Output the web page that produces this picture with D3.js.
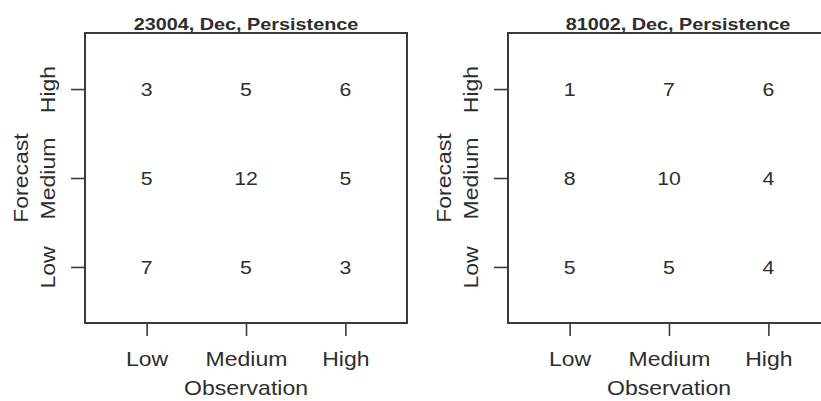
<!DOCTYPE html>
<html>
<head>
<meta charset="utf-8">
<script src="https://cdn.jsdelivr.net/npm/d3@7"></script>
<style>
  html, body { margin: 0; padding: 0; background: #fff; }
  svg { display: block; font-family: "Liberation Sans", Arial, Helvetica, sans-serif; }
</style>
</head>
<body>
<svg id="chart" width="821" height="401"></svg>
<script>
// Contingency tables: rows = forecast level (Low, Medium, High), columns = observed level (Low, Medium, High)
const levels = ["Low", "Medium", "High"];
const stations = ["23004", "81002"];
const month = "Dec";
const method = "Persistence";
const counts23004 = [
  [7, 5, 3],   // forecast Low
  [5, 12, 5],  // forecast Medium
  [3, 5, 6]    // forecast High
];
const counts81002 = [
  [5, 5, 4],
  [8, 10, 4],
  [1, 7, 6]
];
const tables = [counts23004, counts81002];

// Panel geometry
const panels = [
  { left: 85, titleShift: 0 },
  { left: 508, titleShift: 9 }
];
const boxW = 322, boxTop = 33, boxBottom = 323;
const ink = "#2e2e2e";
const frame = "#3a3a3a";

const svg = d3.select("#chart");

panels.forEach((p, i) => {
  const x = d3.scalePoint().domain(levels).range([p.left, p.left + boxW]).padding(0.62);
  const y = d3.scalePoint().domain(levels).range([boxBottom, boxTop]).padding(0.63);
  const g = svg.append("g");

  // Plot frame
  g.append("rect")
    .attr("x", p.left).attr("y", boxTop)
    .attr("width", boxW).attr("height", boxBottom - boxTop)
    .attr("fill", "none").attr("stroke", frame).attr("stroke-width", 2);

  // Bottom axis: Observation
  const xa = g.append("g")
    .attr("transform", `translate(0,${boxBottom})`)
    .call(d3.axisBottom(x).tickSize(13).tickSizeOuter(0));
  xa.select(".domain").remove();
  xa.selectAll(".tick line").attr("stroke", frame).attr("stroke-width", 1.6);
  xa.selectAll(".tick text")
    .attr("y", 43.5).attr("dy", 0)
    .attr("fill", ink).attr("font-size", 20)
    .attr("transform", "scale(1.15,1)");

  // Left axis: Forecast
  const ya = g.append("g")
    .attr("transform", `translate(${p.left},0)`)
    .call(d3.axisLeft(y).tickSize(14).tickSizeOuter(0));
  ya.select(".domain").remove();
  ya.selectAll(".tick line").attr("stroke", frame).attr("stroke-width", 1.6);
  ya.selectAll(".tick text")
    .attr("x", 0).attr("y", 0).attr("dy", 0)
    .attr("text-anchor", "middle")
    .attr("fill", ink).attr("font-size", 20)
    .attr("transform", "translate(-30,0) rotate(-90) scale(1.15,1)");

  // Cell counts
  const cells = [];
  tables[i].forEach((row, fi) => row.forEach((v, oi) => cells.push({ f: levels[fi], o: levels[oi], v })));
  g.selectAll("text.count").data(cells).join("text")
    .attr("class", "count")
    .attr("text-anchor", "middle")
    .attr("fill", ink).attr("font-size", 19)
    .attr("transform", d => `translate(${x(d.o)},${y(d.f) + 6.8}) scale(1.12,1)`)
    .text(d => d.v);

  const cx = p.left + boxW / 2;
  // Title
  g.append("text")
    .attr("text-anchor", "middle")
    .attr("font-weight", "bold").attr("font-size", 16.5).attr("fill", ink)
    .attr("transform", `translate(${cx + p.titleShift},30) scale(1.2,1)`)
    .text(`${stations[i]}, ${month}, ${method}`);

  // Axis titles
  g.append("text")
    .attr("text-anchor", "middle").attr("font-size", 20).attr("fill", ink)
    .attr("transform", `translate(${cx},395) scale(1.15,1)`)
    .text("Observation");
  g.append("text")
    .attr("text-anchor", "middle").attr("font-size", 20).attr("fill", ink)
    .attr("transform", `translate(${p.left - 57},${(boxTop + boxBottom) / 2}) rotate(-90) scale(1.15,1)`)
    .text("Forecast");
});
</script>
</body>
</html>
